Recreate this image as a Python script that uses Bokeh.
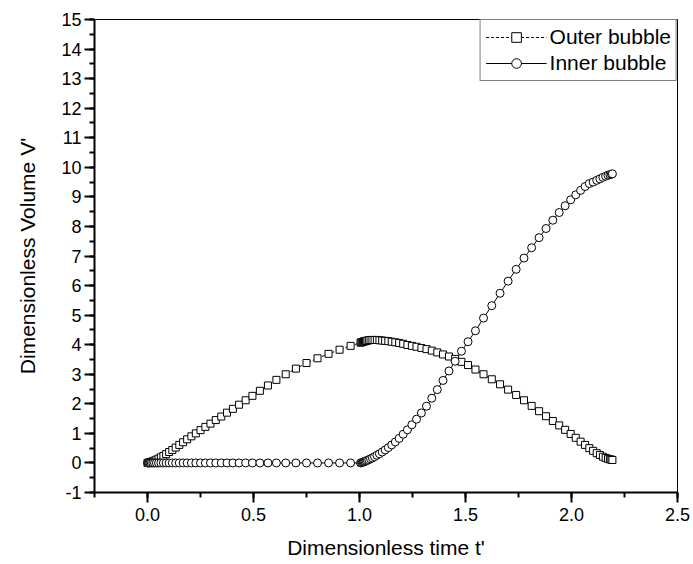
from bokeh.plotting import figure
from bokeh.models import (Range1d, SingleIntervalTicker, NumeralTickFormatter,
                          Legend, LegendItem)
from bokeh.embed import file_html
from bokeh.resources import INLINE

# Dimensionless time grid shared by both bubbles
t_prime = [
    0.000, 0.003, 0.007, 0.012, 0.018, 0.025, 0.033, 0.042, 0.052, 0.063,
    0.075, 0.088, 0.102, 0.117, 0.133, 0.150, 0.168, 0.187, 0.207, 0.228,
    0.250, 0.273, 0.297, 0.322, 0.348, 0.375, 0.403, 0.432, 0.463, 0.495,
    0.530, 0.568, 0.608, 0.652, 0.700, 0.750, 0.802, 0.854, 0.906, 0.958,
    1.005, 1.009, 1.013, 1.017, 1.021, 1.026, 1.031, 1.037, 1.044, 1.052,
    1.061, 1.071, 1.082, 1.094, 1.107, 1.121, 1.136, 1.152, 1.169, 1.187,
    1.206, 1.226, 1.247, 1.269, 1.292, 1.316, 1.341, 1.367, 1.394, 1.422,
    1.451, 1.481, 1.512, 1.547, 1.585, 1.624, 1.663, 1.701, 1.739, 1.776,
    1.812, 1.847, 1.880, 1.912, 1.942, 1.970, 1.996, 2.020, 2.043, 2.064,
    2.084, 2.102, 2.119, 2.134, 2.148, 2.161, 2.172, 2.181, 2.188, 2.193,
]

# Dimensionless volume of the outer bubble
outer_volume = [
    0.000, 0.005, 0.012, 0.022, 0.036, 0.055, 0.080, 0.110, 0.145, 0.190,
    0.240, 0.300, 0.370, 0.440, 0.520, 0.610, 0.700, 0.800, 0.900, 1.000,
    1.110, 1.220, 1.330, 1.450, 1.570, 1.700, 1.830, 1.970, 2.120, 2.270,
    2.440, 2.620, 2.810, 3.000, 3.190, 3.380, 3.540, 3.690, 3.830, 3.960,
    4.070, 4.080, 4.090, 4.100, 4.110, 4.120, 4.130, 4.140, 4.150, 4.160,
    4.160, 4.160, 4.160, 4.150, 4.140, 4.130, 4.120, 4.100, 4.080, 4.060,
    4.030, 3.990, 3.960, 3.930, 3.890, 3.850, 3.800, 3.740, 3.670, 3.600,
    3.520, 3.420, 3.310, 3.160, 3.000, 2.830, 2.660, 2.480, 2.300, 2.120,
    1.930, 1.750, 1.580, 1.420, 1.270, 1.120, 0.980, 0.850, 0.720, 0.610,
    0.500, 0.410, 0.330, 0.270, 0.210, 0.170, 0.140, 0.120, 0.110, 0.100,
]

# Dimensionless volume of the inner bubble
inner_volume = [
    0.000, 0.000, 0.000, 0.000, 0.000, 0.000, 0.000, 0.000, 0.000, 0.000,
    0.000, 0.000, 0.000, 0.000, 0.000, 0.000, 0.000, 0.000, 0.000, 0.000,
    0.000, 0.000, 0.000, 0.000, 0.000, 0.000, 0.000, 0.000, 0.000, 0.000,
    0.000, 0.000, 0.000, 0.000, 0.000, 0.000, 0.000, 0.000, 0.000, 0.000,
    0.000, 0.010, 0.020, 0.030, 0.040, 0.050, 0.070, 0.090, 0.110, 0.140,
    0.170, 0.210, 0.260, 0.310, 0.370, 0.440, 0.520, 0.610, 0.710, 0.830,
    0.970, 1.120, 1.290, 1.480, 1.690, 1.920, 2.190, 2.480, 2.790, 3.110,
    3.440, 3.780, 4.100, 4.470, 4.900, 5.320, 5.740, 6.150, 6.550, 6.930,
    7.280, 7.620, 7.930, 8.210, 8.470, 8.700, 8.900, 9.070, 9.220, 9.350,
    9.450, 9.500, 9.560, 9.610, 9.660, 9.700, 9.730, 9.750, 9.770, 9.780,
]

FONT = "Liberation Sans"

p = figure(
    width=693, height=564,
    output_backend="svg", toolbar_location=None,
    x_range=Range1d(-0.25, 2.5), y_range=Range1d(-1, 15),
    min_border_left=94, min_border_right=16,
    min_border_top=19, min_border_bottom=72,
)
p.xgrid.visible = False
p.ygrid.visible = False
p.outline_line_color = "black"
p.outline_line_width = 1
p.background_fill_color = "white"
p.border_fill_color = "white"

p.xaxis.ticker = SingleIntervalTicker(interval=0.5, num_minor_ticks=2)
p.yaxis.ticker = SingleIntervalTicker(interval=1, num_minor_ticks=2)
p.xaxis.formatter = NumeralTickFormatter(format="0.0")
p.yaxis.formatter = NumeralTickFormatter(format="0")
p.xaxis.axis_label = "Dimensionless time t'"
p.yaxis.axis_label = "Dimensionless Volume V'"

for ax in (p.xaxis, p.yaxis):
    ax.axis_line_width = 2
    ax.axis_line_color = "black"
    ax.major_tick_line_width = 2
    ax.minor_tick_line_width = 2
    ax.major_tick_line_color = "black"
    ax.minor_tick_line_color = "black"
    ax.major_tick_in = 0
    ax.minor_tick_in = 0
    ax.major_tick_out = 10
    ax.minor_tick_out = 5
    ax.major_label_text_font = FONT
    ax.major_label_text_font_size = "18px"
    ax.major_label_text_color = "black"
    ax.axis_label_text_font = FONT
    ax.axis_label_text_font_size = "21px"
    ax.axis_label_text_font_style = "normal"
    ax.axis_label_text_color = "black"

p.xaxis.major_label_standoff = 5
p.xaxis.axis_label_standoff = 12
p.yaxis.major_label_standoff = 3
p.yaxis.axis_label_standoff = 19

outer_line = p.line(t_prime, outer_volume, line_color="black",
                    line_width=1, line_dash="3 2")
inner_line = p.line(t_prime, inner_volume, line_color="black", line_width=1)
outer_pts = p.scatter(t_prime, outer_volume, marker="square", size=7,
                      fill_color="white", line_color="black", line_width=1)
inner_pts = p.scatter(t_prime, inner_volume, marker="circle", size=8,
                      fill_color="white", line_color="black", line_width=1)

legend = Legend(
    items=[
        LegendItem(label="Outer bubble", renderers=[outer_line, outer_pts]),
        LegendItem(label="Inner bubble", renderers=[inner_line, inner_pts]),
    ],
    location="top_right",
    margin=0,
    padding=5,
    spacing=2,
    glyph_width=61,
    glyph_height=24,
    label_standoff=3,
    label_text_font=FONT,
    label_text_font_size="21px",
    label_text_color="black",
    border_line_color="black",
    border_line_width=1,
    background_fill_alpha=1,
)
p.add_layout(legend)

open("out.html", "w").write(file_html(p, INLINE))
